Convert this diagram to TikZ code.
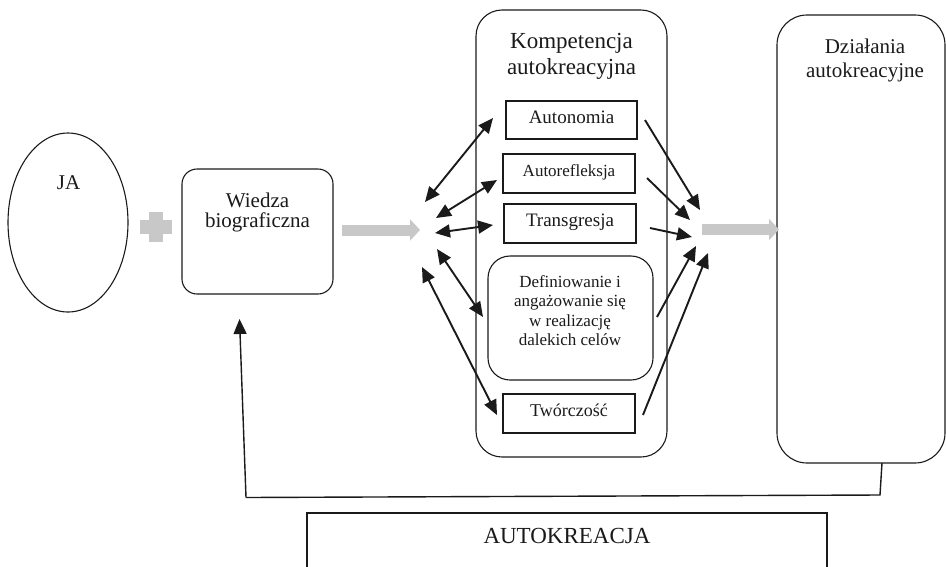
\documentclass[tikz,border=0pt]{standalone}
\usepackage{fontspec}
\setmainfont{Liberation Serif}
\usetikzlibrary{arrows.meta,shapes.geometric}
\definecolor{ink}{HTML}{1A1A1A}
\definecolor{paleink}{HTML}{C8C8C8}
\begin{document}
\begin{tikzpicture}[x=1pt,y=-1pt,
  frame/.style={draw=ink, line width=1.1pt, inner sep=0pt},
  roundframe/.style={frame, rounded corners=#1},
  txt/.style={text=ink, inner sep=0pt, align=center},
  fs/.style 2 args={font=\fontsize{#1}{#2}\selectfont},
  boxtext/.style={txt, fs={#1}{#1}, text height=0.662em, text depth=0pt},
  head/.style={Triangle[length=15pt,width=13pt]},
  link/.style={draw=ink, line width=1.9pt, -{Triangle[length=15pt,width=13pt]}},
  twoway/.style={draw=ink, line width=1.9pt, {Triangle[length=15pt,width=13pt]}-{Triangle[length=15pt,width=13pt]}},
  flow/.style={draw=paleink, line width=11pt, -{Triangle[length=10pt,width=21pt]}},
  loopline/.style={draw=ink, line width=1.4pt}
]
\useasboundingbox (0,0) rectangle (946,566);
\clip (0,0) rectangle (946,566);

% --- left part: self and biographical knowledge
\node[frame, ellipse, minimum width=120pt, minimum height=179pt] (ja) at (68,222.5) {};
\node[txt, fs={21}{21}, anchor=north] (jatext) at (68.5,175) {JA};

\fill[paleink] (149,212) rectangle (163,242);
\fill[paleink] (140,220) rectangle (172,234);

\node[roundframe=15pt, minimum width=151pt, minimum height=125pt] (wiedza) at (257.5,231.5) {};
\node[txt, fs={21}{20.5}, anchor=north] (wiedzatext) at (257.5,192.7) {Wiedza\\biograficzna};

% --- competence column
\node[roundframe=26pt, minimum width=191pt, minimum height=447pt] (komp) at (571.5,233.5) {};
\node[txt, fs={23}{26}, anchor=north] (komptext) at (571.5,33.3) {Kompetencja\\autokreacyjna};

\node[frame, minimum width=131pt, minimum height=38pt, boxtext=19] (autonomia) at (571.5,120) {Autonomia};
\node[frame, minimum width=132pt, minimum height=39pt, boxtext=17] (autorefl) at (569,173.5) {Autorefleksja};
\node[frame, minimum width=132pt, minimum height=39pt, boxtext=19] (transgr) at (570,223.5) {Transgresja};
\node[roundframe=22pt, minimum width=165pt, minimum height=124pt] (cele) at (570.5,318) {};
\node[txt, fs={17}{19.3}, anchor=north] (celetext) at (570,275.4)
  {Definiowanie i\\angażowanie się\\w realizację\\dalekich celów};
\node[frame, minimum width=132pt, minimum height=39pt, boxtext=18] (tworcz) at (569,413.5) {Twórczość};

% --- actions column
\node[roundframe=30pt, minimum width=168pt, minimum height=448pt] (dzial) at (861,239) {};
\node[txt, fs={21}{24}, anchor=north] (dzialtext) at (865,38.7) {Działania\\autokreacyjne};

% --- bottom caption box
\node[frame, minimum width=520pt, minimum height=80pt] (autokr) at (567,553) {};
\node[txt, fs={23}{23}, anchor=base] (autokrtext) at (567,543) {AUTOKREACJA};

% --- broad flow arrows
\coordinate (flowAin) at (342,230);
\coordinate (flowAout) at (420,230);
\coordinate (flowBin) at (702,229.5);
\coordinate (flowBout) at (779,229.5);
\draw[flow] (flowAin) -- (flowAout);
\draw[flow] (flowBin) -- (flowBout);

% --- two-way links between the hub and the competences
\coordinate (hA1) at (425,202);   \coordinate (kA1) at (493,118);
\coordinate (hA2) at (436,218);   \coordinate (kA2) at (497,180);
\coordinate (hA3) at (435,233);   \coordinate (kA3) at (493,225);
\coordinate (hA4) at (437,249);   \coordinate (kA4) at (483,317);
\coordinate (hA5) at (422,267);   \coordinate (kA5) at (497,415);
\draw[twoway] (hA1) -- (kA1);
\draw[twoway] (hA2) -- (kA2);
\draw[twoway] (hA3) -- (kA3);
\draw[twoway] (hA4) -- (kA4);
\draw[twoway] (hA5) -- (kA5);

% --- links from the competences towards the actions
\coordinate (kB1) at (645,120);   \coordinate (hB1) at (700,210);
\coordinate (kB2) at (647,178);   \coordinate (hB2) at (690,220);
\coordinate (kB3) at (650,228);   \coordinate (hB3) at (692,237);
\coordinate (kB4) at (657,317);   \coordinate (hB4) at (696,246);
\coordinate (kB5) at (643,415);   \coordinate (hB5) at (708,253);
\draw[link] (kB1) -- (hB1);
\draw[link] (kB2) -- (hB2);
\draw[link] (kB3) -- (hB3);
\draw[link] (kB4) -- (hB4);
\draw[link] (kB5) -- (hB5);

% --- feedback loop from actions back to knowledge
\coordinate (fb0) at (882,463);
\coordinate (fb1) at (880,495);
\coordinate (fb2) at (246,497.5);
\coordinate (fb3) at (239.5,319);
\draw[loopline] (fb0) -- (fb1) -- (fb2);
\draw[link, line width=1.4pt] (fb2) -- (fb3);
\end{tikzpicture}
\end{document}
